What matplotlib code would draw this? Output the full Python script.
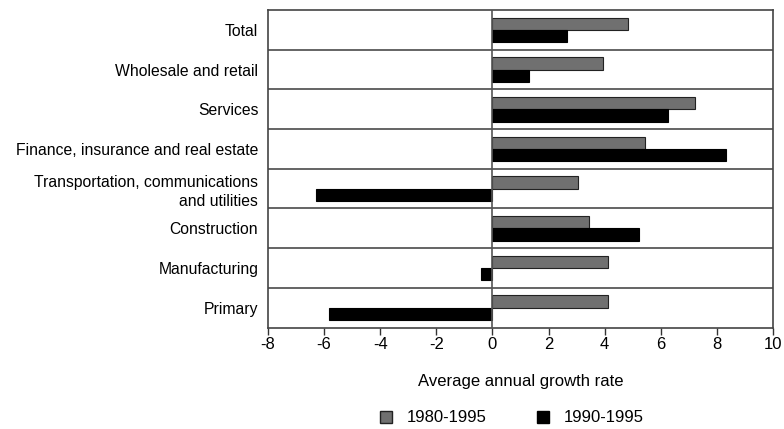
import matplotlib
matplotlib.use("Agg")
import matplotlib.pyplot as plt
import numpy as np
from matplotlib.patches import Patch

categories = ["Total", "Wholesale and retail", "Services",
              "Finance, insurance and real estate",
              "Transportation, communications\nand utilities",
              "Construction", "Manufacturing", "Primary"]
s1980 = [4.83, 3.94, 7.23, 5.43, 3.04, 3.43, 4.12, 4.12]
s1990 = [2.64, 1.32, 6.24, 8.33, -6.30, 5.24, -0.42, -5.81]
series_names = ["1980-1995", "1990-1995"]
xticks = [-8, -6, -4, -2, 0, 2, 4, 6, 8, 10]

fam = ["Liberation Sans Narrow", "Liberation Sans", "DejaVu Sans"]
plt.rcParams['font.family'] = fam

fig = plt.figure(figsize=(7.84, 4.29), dpi=100)
ax = fig.add_axes([268/784, 1-327.5/429, 505/784, 317.5/429])

n = len(categories)
y = np.arange(n)
h = 0.31
ax.barh(y - h/2, s1980, height=h, color="#707070", edgecolor="#222222", linewidth=0.8, zorder=3)
ax.barh(y + h/2, s1990, height=h, color="#000000", edgecolor="#000000", linewidth=0.8, zorder=3)

ax.set_ylim(n - 0.5, -0.5)
ax.set_xlim(-8, 10)
for k in range(1, n):
    ax.axhline(k - 0.5, color="#4a4a4a", linewidth=1.2, zorder=2)
ax.axvline(0, color="#555555", linewidth=1.2, zorder=4)

ax.set_yticks(y)
ax.set_yticklabels(categories, fontsize=11.3, ha="right", multialignment="right",
                   linespacing=1.35)
ax.tick_params(axis="y", length=0, pad=7)
ax.set_xticks(xticks)
ax.set_xticklabels([str(v) for v in xticks], fontsize=12)
ax.tick_params(axis="x", direction="out", length=5, width=1, color="#333333", pad=2)
for s in ax.spines.values():
    s.set_color("#444444")
    s.set_linewidth(1.2)

ax.set_xlabel("Average annual growth rate", fontsize=12, labelpad=16)

handles = [Patch(facecolor="#707070", edgecolor="#222222", label=series_names[0]),
           Patch(facecolor="#000000", edgecolor="#000000", label=series_names[1])]
fig.legend(handles=handles, loc="center", bbox_to_anchor=(512/784, 1-418/429),
           ncol=2, frameon=False, fontsize=12, handlelength=0.7, handleheight=0.7,
           columnspacing=3.0, handletextpad=0.9)

fig.savefig("out.png", dpi=100)
